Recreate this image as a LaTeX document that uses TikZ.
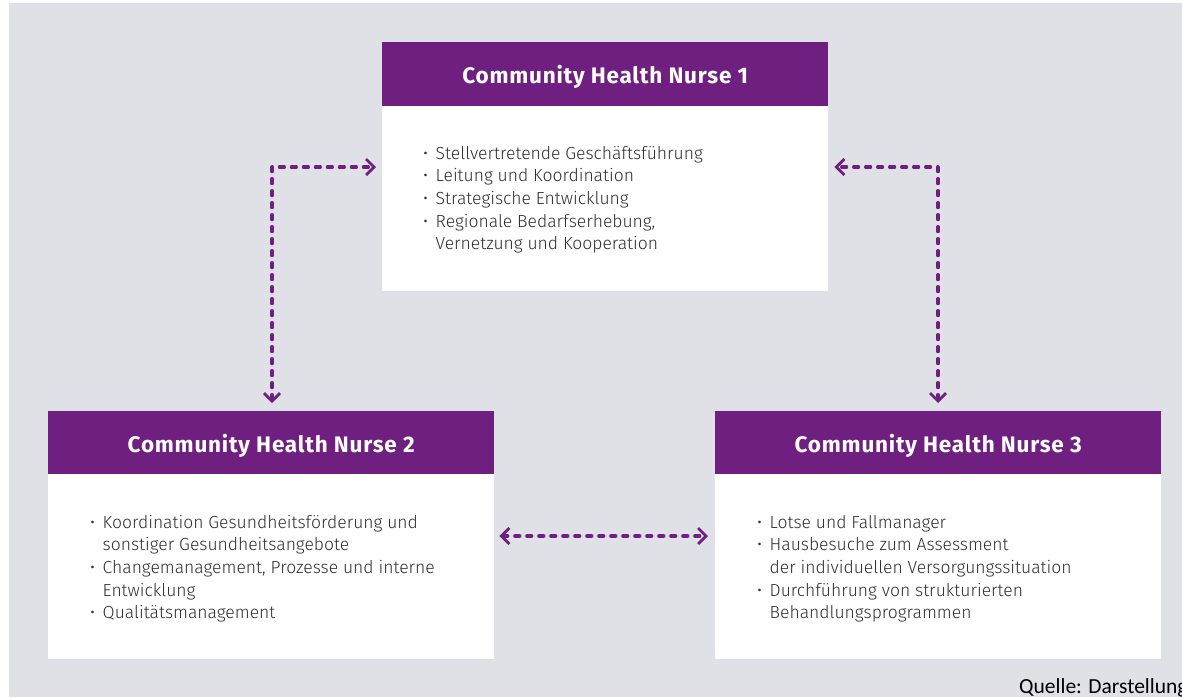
\documentclass[tikz,border=0pt]{standalone}
\usepackage{fontspec}
\usetikzlibrary{arrows.meta}
\newfontfamily\bodyfont{Fira Sans Light}
\newfontfamily\headfont{Fira Sans}[LetterSpace=3.5]
\newfontfamily\notefont{Carlito}
\definecolor{nursepurple}{HTML}{6F1F7F}
\definecolor{bggray}{HTML}{DFE1E6}
\definecolor{txtgray}{HTML}{303030}
\newcommand\bitem{\makebox[12.5pt][l]{•}}
\newcommand\bcont{\hspace*{12.5pt}}
\tikzset{
  hdr/.style={fill=nursepurple, text=white, minimum width=446pt, minimum height=64pt,
    inner sep=0pt, anchor=north west, text height=18.5pt, text depth=0pt,
    font=\headfont\bfseries\fontsize{22.5}{26}\selectfont},
  bodybox/.style={fill=white, minimum width=446pt, minimum height=185pt, inner sep=0pt, anchor=north west},
  items/.style={anchor=base west, align=left, inner sep=0pt, text=txtgray,
    font=\bodyfont\fontsize{17.5}{22.7}\selectfont},
  conn/.style={draw=nursepurple, line width=3.2pt, dash pattern=on 5pt off 7pt,
    line cap=round, line join=round,
    {Straight Barb[length=8pt,width=16pt,line width=2.8pt]}-{Straight Barb[length=8pt,width=16pt,line width=2.8pt]}}
}
\begin{document}
\begin{tikzpicture}[x=1pt,y=-1pt]
\useasboundingbox (0,0) rectangle (1182,697);
\fill[white] (0,0) rectangle (1182,697);
\fill[bggray] (9,3) rectangle (1182,697);
% box 1
\node[hdr] (h1) at (382,42) {Community Health Nurse 1};
\node[bodybox] (b1) at (382,106) {};
\node[items] (t1) at (423,249.8) {\bitem Stellvertretende Geschäftsführung\\
\bitem Leitung und Koordination\\
\bitem Strategische Entwicklung\\
\bitem Regionale Bedarfserhebung,\\
\bcont Vernetzung und Kooperation};
% box 2
\node[hdr] (h2) at (48,411) {Community Health Nurse 2};
\node[bodybox] (b2) at (48,474) {};
\node[items] (t2) at (90,618.8) {\bitem Koordination Gesundheitsförderung und\\
\bcont sonstiger Gesundheitsangebote\\
\bitem Changemanagement, Prozesse und interne\\
\bcont Entwicklung\\
\bitem Qualitätsmanagement};
% box 3
\node[hdr] (h3) at (715,411) {Community Health Nurse 3};
\node[bodybox] (b3) at (715,474) {};
\node[items] (t3) at (757,618.8) {\bitem Lotse und Fallmanager\\
\bitem Hausbesuche zum Assessment\\
\bcont der individuellen Versorgungssituation\\
\bitem Durchführung von strukturierten\\
\bcont Behandlungsprogrammen};
% connectors
\coordinate (cl) at (272,167);
\coordinate (cr) at (938,167);
\coordinate (cm) at (604,536);
\draw[conn, shorten <=8pt, shorten >=6pt] (h2.north -| cl) -- (cl) -- (cl -| b1.west);
\draw[conn, shorten <=8pt, shorten >=6pt] (h3.north -| cr) -- (cr) -- (cr -| b1.east);
\draw[conn, shorten <=5pt, shorten >=7pt] (cm -| b2.east) -- (cm -| b3.west);
% source
\node[anchor=base west, inner sep=0pt, font=\notefont\fontsize{21.5}{24}\selectfont, text=black] (q) at (1019,693) {Quelle: Darstellung};
\end{tikzpicture}
\end{document}
